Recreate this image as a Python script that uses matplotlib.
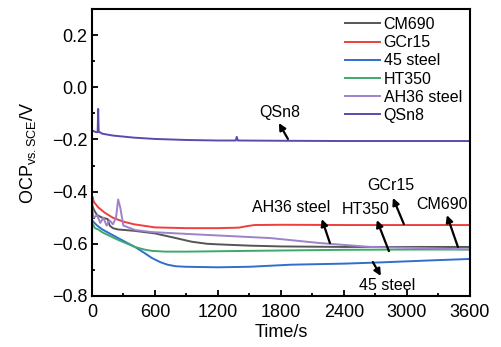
import matplotlib
matplotlib.use('Agg')
import matplotlib.pyplot as plt
from matplotlib.ticker import MultipleLocator

plt.rcParams['font.family'] = ['Liberation Sans', 'DejaVu Sans']
plt.rcParams['mathtext.fontset'] = 'custom'
plt.rcParams['mathtext.rm'] = 'Liberation Sans'
plt.rcParams['mathtext.it'] = 'Liberation Sans:italic'

## data (time in s, potential in V)
t_cm690 = [0, 20, 50, 100, 150, 170, 200, 250, 400, 600, 800, 950, 1100, 1200, 1500, 1800, 2400, 3000, 3600]
v_cm690 = [-0.45, -0.47, -0.49, -0.50, -0.505, -0.53, -0.54, -0.545, -0.55, -0.56, -0.578, -0.592, -0.60,
           -0.602, -0.607, -0.61, -0.612, -0.612, -0.612]

t_gcr15 = [0, 5, 20, 60, 120, 200, 300, 400, 600, 900, 1200, 1400, 1480, 1550, 1800, 2400, 3000, 3600]
v_gcr15 = [-0.70, -0.42, -0.44, -0.46, -0.48, -0.50, -0.515, -0.525, -0.537, -0.54, -0.54, -0.538,
           -0.532, -0.528, -0.527, -0.528, -0.528, -0.528]

t_45 = [0, 50, 100, 250, 410, 500, 570, 650, 720, 800, 890, 1200, 1500, 1900, 2400, 2700, 3200, 3600]
v_45 = [-0.51, -0.53, -0.545, -0.578, -0.612, -0.635, -0.654, -0.67, -0.68, -0.686, -0.688, -0.69,
        -0.688, -0.68, -0.676, -0.672, -0.664, -0.658]

t_ht350 = [0, 30, 60, 100, 250, 410, 500, 570, 700, 900, 1500, 2400, 3000, 3600]
v_ht350 = [-0.52, -0.54, -0.545, -0.556, -0.585, -0.612, -0.622, -0.627, -0.63, -0.63, -0.627, -0.623,
           -0.622, -0.622]

t_ah36 = [0, 20, 50, 80, 110, 140, 170, 200, 230, 250, 270, 300, 410, 570, 900, 1300, 1700, 2170,
          2650, 3120, 3600]
v_ah36 = [-0.47, -0.50, -0.49, -0.52, -0.50, -0.53, -0.51, -0.525, -0.50, -0.43, -0.46, -0.53, -0.547,
          -0.555, -0.562, -0.57, -0.578, -0.597, -0.612, -0.616, -0.622]

t_qsn8 = [0, 40, 55, 60, 65, 100, 200, 400, 600, 900, 1200, 1370, 1380, 1390, 1800, 2400, 3000, 3600]
v_qsn8 = [-0.165, -0.172, -0.172, -0.083, -0.17, -0.178, -0.185, -0.193, -0.198, -0.202, -0.204,
          -0.204, -0.19, -0.204, -0.205, -0.206, -0.206, -0.206]

## output graph
fig = plt.figure(figsize=(5.02, 3.47), dpi=100)
ax = fig.add_axes([0.183, 0.147, 0.753, 0.827])

lw = 1.4
ax.plot(t_cm690, v_cm690, color='#555555', lw=lw, label='CM690')
ax.plot(t_gcr15, v_gcr15, color='#EE3F3C', lw=lw, label='GCr15')
ax.plot(t_45, v_45, color='#2F6FCC', lw=lw, label='45 steel')
ax.plot(t_ht350, v_ht350, color='#3DAA6C', lw=lw, label='HT350')
ax.plot(t_ah36, v_ah36, color='#9D82CC', lw=lw, label='AH36 steel')
ax.plot(t_qsn8, v_qsn8, color='#5A4AAE', lw=lw, label='QSn8')

ax.set_xlim(0, 3600)
ax.set_ylim(-0.8, 0.3)
ax.xaxis.set_major_locator(MultipleLocator(600))
ax.xaxis.set_minor_locator(MultipleLocator(300))
ax.yaxis.set_major_locator(MultipleLocator(0.2))
ax.yaxis.set_minor_locator(MultipleLocator(0.1))
ax.tick_params(which='both', direction='in', width=1.3, labelsize=13, pad=3)
ax.tick_params(axis='x', which='both', pad=6)
ax.tick_params(which='major', length=4)
ax.tick_params(which='minor', length=2.5)
for s in ax.spines.values():
    s.set_linewidth(1.5)
ax.set_yticks([-0.8, -0.6, -0.4, -0.2, 0.0, 0.2])
ax.set_yticklabels(['\u22120.8', '\u22120.6', '\u22120.4', '\u22120.2', '0.0', '0.2'])

ax.set_xlabel('Time/s', fontsize=13, labelpad=2)
ax.set_ylabel(r'OCP$_{\mathrm{vs.SCE}}$/V', fontsize=13, labelpad=10)

ax.legend(loc='upper right', frameon=False, fontsize=11.5, handlelength=2.2, handletextpad=0.25,
          labelspacing=0.2, borderaxespad=0.1, bbox_to_anchor=(1.0, 1.0))

## labels with arrows
notes = [
    ('QSn8', (1790, -0.095), (1781, -0.137), (1867, -0.198)),
    ('AH36 steel', (1895, -0.459), (2190, -0.505), (2267, -0.597)),
    ('HT350', (2610, -0.467), (2714, -0.509), (2829, -0.628)),
    ('GCr15', (2848, -0.375), (2867, -0.424), (2971, -0.524)),
    ('CM690', (3333, -0.451), (3381, -0.490), (3486, -0.612)),
    ('45 steel', (2810, -0.758), (2752, -0.723), (2676, -0.670)),
]
for name, txy, head, tail in notes:
    ax.text(txy[0], txy[1], name, fontsize=11.5, ha='center', va='center')
    ax.annotate('', xy=head, xytext=tail,
                arrowprops=dict(arrowstyle='-|>', color='black', lw=1.6,
                                mutation_scale=10, shrinkA=0, shrinkB=0))

plt.savefig('out.png', dpi=100)
